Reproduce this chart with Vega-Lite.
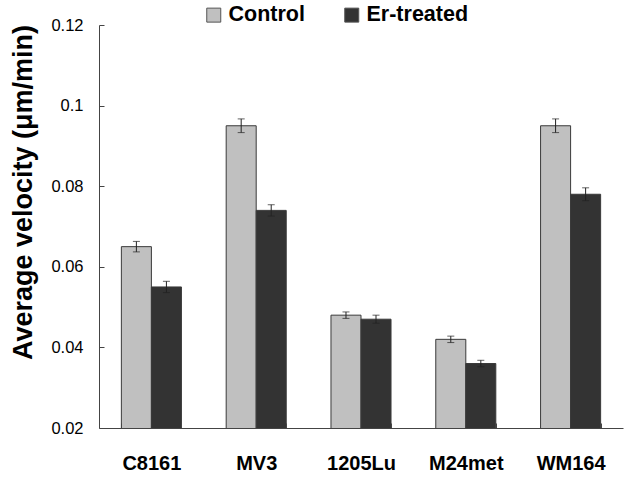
{
  "$schema": "https://vega.github.io/schema/vega-lite/v6.json",
  "width": 524,
  "height": 403,
  "autosize": "none",
  "padding": {"left": 99, "top": 25, "right": 10, "bottom": 50},
  "background": "white",
  "config": {"view": {"stroke": null}, "font": "Liberation Sans"},
  "data": {"values": [
    {"cell": "C8161", "group": "Control", "value": 0.065, "lo": 0.0637, "hi": 0.0663},
    {"cell": "C8161", "group": "Er-treated", "value": 0.055, "lo": 0.0536, "hi": 0.0564},
    {"cell": "MV3", "group": "Control", "value": 0.095, "lo": 0.0933, "hi": 0.0967},
    {"cell": "MV3", "group": "Er-treated", "value": 0.074, "lo": 0.0726, "hi": 0.0754},
    {"cell": "1205Lu", "group": "Control", "value": 0.048, "lo": 0.0472, "hi": 0.0488},
    {"cell": "1205Lu", "group": "Er-treated", "value": 0.047, "lo": 0.046, "hi": 0.048},
    {"cell": "M24met", "group": "Control", "value": 0.042, "lo": 0.0412, "hi": 0.0428},
    {"cell": "M24met", "group": "Er-treated", "value": 0.036, "lo": 0.0352, "hi": 0.0368},
    {"cell": "WM164", "group": "Control", "value": 0.095, "lo": 0.0933, "hi": 0.0967},
    {"cell": "WM164", "group": "Er-treated", "value": 0.078, "lo": 0.0764, "hi": 0.0796}
  ]},
  "encoding": {
    "x": {
      "field": "cell", "type": "nominal", "sort": null,
      "scale": {"paddingInner": 0.427, "paddingOuter": 0.2135},
      "axis": {
        "title": null, "labelAngle": 0, "labelFont": "Liberation Sans", "labelFontWeight": "bold",
        "labelFontSize": 20, "labelColor": "black", "labelPadding": 30,
        "tickBand": "extent", "tickSize": -5, "tickColor": "#444", "domainColor": "#444",
        "labelFlush": false, "zindex": 1
      }
    },
    "xOffset": {"field": "group", "type": "nominal", "sort": ["Control", "Er-treated"]}
  },
  "layer": [
    {
      "mark": {"type": "bar", "stroke": "#3a3a3a", "strokeWidth": 1, "clip": true},
      "encoding": {
        "y": {
          "field": "value", "type": "quantitative",
          "scale": {"domain": [0.02, 0.12], "zero": false, "nice": false},
          "axis": {
            "title": "Average velocity (μm/min)", "titleFont": "Liberation Sans", "titleFontWeight": "bold",
            "titleFontSize": 27, "titleColor": "black", "titleX": -76, "titleY": 167, "titleAlign": "center", "titleBaseline": "middle", "titleAngle": -90,
            "values": [0.02, 0.04, 0.06, 0.08, 0.1, 0.12], "format": "~g",
            "labelFont": "Liberation Sans", "labelFontSize": 16.5, "labelColor": "black", "labelPadding": 21,
            "grid": false, "tickSize": -5, "tickColor": "#444", "domainColor": "#444", "zindex": 1
          }
        },
        "color": {
          "field": "group", "type": "nominal",
          "scale": {"domain": ["Control", "Er-treated"], "range": ["#c0c0c0", "#333333"]},
          "legend": {
            "title": null, "orient": "none", "direction": "horizontal", "legendX": 104, "legendY": -21,
            "symbolType": "square", "symbolSize": 196, "symbolStrokeColor": "#555", "symbolStrokeWidth": 1,
            "labelFont": "Liberation Sans", "labelFontWeight": "bold", "labelFontSize": 21.5, "labelColor": "black",
            "columnPadding": 36, "labelOffset": 4
          }
        }
      }
    },
    {
      "mark": {"type": "rule", "color": "#222", "strokeWidth": 1},
      "encoding": {
        "y": {"field": "lo", "type": "quantitative"},
        "y2": {"field": "hi"}
      }
    },
    {
      "mark": {"type": "tick", "color": "#222", "size": 7, "thickness": 1},
      "encoding": {"y": {"field": "lo", "type": "quantitative"}}
    },
    {
      "mark": {"type": "tick", "color": "#222", "size": 7, "thickness": 1},
      "encoding": {"y": {"field": "hi", "type": "quantitative"}}
    }
  ]
}
